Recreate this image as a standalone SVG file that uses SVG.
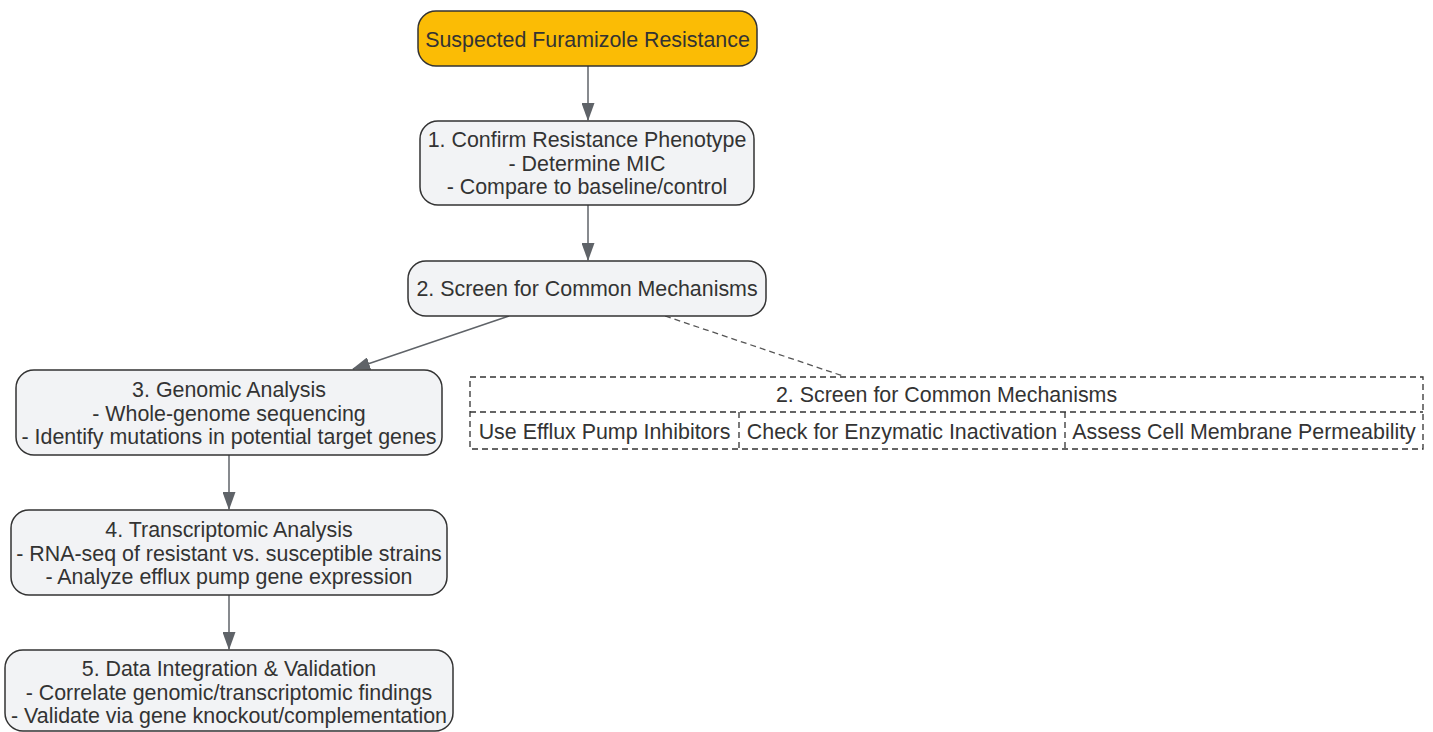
<svg xmlns="http://www.w3.org/2000/svg" width="1433" height="732" viewBox="0 0 1433 732">
<defs>
<style>
.n{fill:#f2f3f5;stroke:#333;stroke-width:1.5}
.s{fill:#fbbc05;stroke:#333;stroke-width:1.5}
.t{font-family:"Liberation Sans",Arial,sans-serif;font-size:21.4px;fill:#333;text-anchor:middle}
.c{stroke:#5f6368;stroke-width:1.5;fill:none}
.d{stroke:#555;stroke-width:1.3;fill:none;stroke-dasharray:6 4}
.tb{fill:none;stroke:#333;stroke-width:1.3;stroke-dasharray:6 4}
</style>
<marker id="ah" viewBox="0 0 18 13" refX="17" refY="6.5" markerWidth="18" markerHeight="13" markerUnits="userSpaceOnUse" orient="auto">
<path d="M0,0 L18,6.5 L0,13 Z" fill="#5f6368"/>
</marker>
</defs>
<rect width="1433" height="732" fill="#fff"/>
<g id="connectors">
<line class="c" x1="588" y1="66" x2="588" y2="120" marker-end="url(#ah)"/>
<line class="c" x1="588" y1="205" x2="588" y2="260" marker-end="url(#ah)"/>
<line class="c" x1="509" y1="316" x2="353" y2="369" marker-end="url(#ah)"/>
<line class="c" x1="229" y1="455" x2="229" y2="509" marker-end="url(#ah)"/>
<line class="c" x1="229" y1="595" x2="229" y2="649" marker-end="url(#ah)"/>
<line class="d" x1="665" y1="316" x2="843" y2="376"/>
</g>
<g id="start">
<rect class="s" x="418" y="11" width="339" height="55" rx="18"/>
<text class="t" x="587.5" y="47">Suspected Furamizole Resistance</text>
</g>
<g id="step1">
<rect class="n" x="420" y="121" width="334" height="84" rx="18"/>
<text class="t" x="587" y="147">1. Confirm Resistance Phenotype</text>
<text class="t" x="587" y="170.5">- Determine MIC</text>
<text class="t" x="587" y="194">- Compare to baseline/control</text>
</g>
<g id="step2">
<rect class="n" x="408" y="261" width="358" height="55" rx="18"/>
<text class="t" x="587" y="296">2. Screen for Common Mechanisms</text>
</g>
<g id="step3">
<rect class="n" x="16" y="370" width="426" height="85" rx="18"/>
<text class="t" x="229" y="397">3. Genomic Analysis</text>
<text class="t" x="229" y="420.5">- Whole-genome sequencing</text>
<text class="t" x="229" y="444">- Identify mutations in potential target genes</text>
</g>
<g id="step4">
<rect class="n" x="11" y="510" width="436" height="85" rx="18"/>
<text class="t" x="229" y="537">4. Transcriptomic Analysis</text>
<text class="t" x="229" y="560.5">- RNA-seq of resistant vs. susceptible strains</text>
<text class="t" x="229" y="584">- Analyze efflux pump gene expression</text>
</g>
<g id="step5">
<rect class="n" x="5" y="650" width="448" height="81" rx="18"/>
<text class="t" x="229" y="676">5. Data Integration &amp; Validation</text>
<text class="t" x="229" y="699.5">- Correlate genomic/transcriptomic findings</text>
<text class="t" x="229" y="723">- Validate via gene knockout/complementation</text>
</g>
<g id="screen-table">
<rect class="tb" x="470" y="377" width="953" height="72"/>
<line class="tb" x1="470" y1="412" x2="1423" y2="412"/>
<line class="tb" x1="739" y1="412" x2="739" y2="449"/>
<line class="tb" x1="1065" y1="412" x2="1065" y2="449"/>
<text class="t" x="946.5" y="402">2. Screen for Common Mechanisms</text>
<text class="t" x="604.5" y="439">Use Efflux Pump Inhibitors</text>
<text class="t" x="902" y="439">Check for Enzymatic Inactivation</text>
<text class="t" x="1244" y="439">Assess Cell Membrane Permeability</text>
</g>
</svg>
